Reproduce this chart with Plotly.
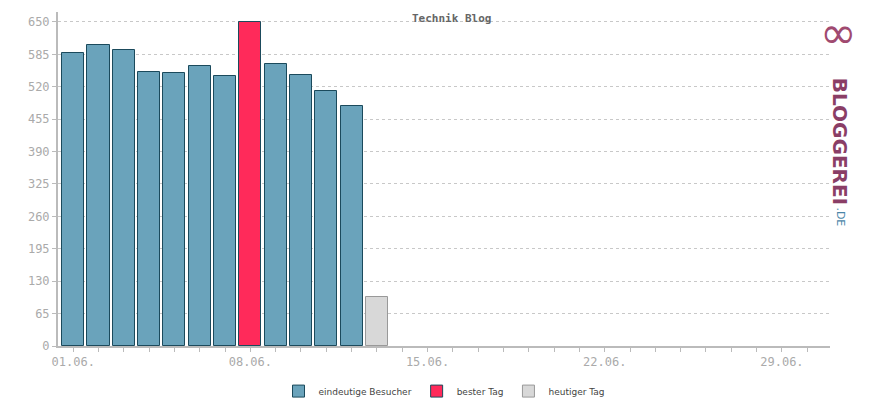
import plotly.graph_objects as go

# Tage im Juni
days_visitors = [1, 2, 3, 4, 5, 6, 7, 9, 10, 11, 12]
visitors = [588, 604, 594, 550, 548, 561, 542, 565, 544, 512, 481]
best_day = [8]
best_value = [650]
today = [13]
today_value = [98]

tick_days = [1, 8, 15, 22, 29]
tick_labels = ['01.06.', '08.06.', '15.06.', '22.06.', '29.06.']
y_ticks = list(range(0, 651, 65))

font_mono = 'DejaVu Sans Mono'
line_dark = '#1b4a5c'

fig = go.Figure()
fig.add_trace(go.Bar(x=days_visitors, y=visitors, name='eindeutige Besucher',
                     marker=dict(color='#6aa3bb', line=dict(color=line_dark, width=1)),
                     width=0.87))
fig.add_trace(go.Bar(x=best_day, y=best_value, name='bester Tag',
                     marker=dict(color='#ff2a5a', line=dict(color=line_dark, width=1)),
                     width=0.87))
fig.add_trace(go.Bar(x=today, y=today_value, name='heutiger Tag',
                     marker=dict(color='#d8d8d8', line=dict(color='#999999', width=1)),
                     width=0.87))

fig.update_layout(
    width=870, height=400,
    margin=dict(l=50, r=48, t=4, b=62, autoexpand=False),
    plot_bgcolor='white', paper_bgcolor='white',
    font=dict(family=font_mono, size=11, color='#555555'),
    title=dict(text='<b>Technik Blog</b>', x=0.51, y=0.985, xanchor='center',
               font=dict(family=font_mono, size=11, color='#666666')),
    showlegend=True,
    legend=dict(orientation='h', x=0.5, xanchor='center', y=-0.135, yanchor='middle',
                font=dict(family='DejaVu Sans', size=9, color='#444444'),
                itemwidth=30),
    bargap=0,
)
fig.update_xaxes(range=[0.4, 30.9], tickvals=tick_days, ticktext=tick_labels,
                 showgrid=False, showline=True, linecolor='#bbbbbb', linewidth=2,
                 ticks='outside', tickcolor='#bbbbbb', ticklen=4,
                 tickfont=dict(family=font_mono, size=12, color='#aaaaaa'),
                 minor=dict(tickvals=list(range(1, 31)), ticks='outside',
                            ticklen=4, tickcolor='#bbbbbb'))
fig.update_yaxes(range=[0, 670], tickvals=y_ticks,
                 showgrid=True, gridcolor='#c8c8c8', griddash='dot', gridwidth=1,
                 showline=True, linecolor='#bbbbbb', linewidth=2,
                 ticks='outside', tickcolor='#bbbbbb', ticklen=4, zeroline=False,
                 tickfont=dict(family=font_mono, size=12, color='#aaaaaa'))

# Logo rechts
fig.add_annotation(xref='paper', yref='paper', x=0.995, y=0.81, xanchor='left', yanchor='top',
                   text='<b>BLOGGEREI</b>', textangle=90, showarrow=False,
                   font=dict(family='DejaVu Sans', size=20, color='#8a3e66'))
fig.add_annotation(xref='paper', yref='paper', x=1.003, y=0.42, xanchor='left', yanchor='top',
                   text='.DE', textangle=90, showarrow=False,
                   font=dict(family='DejaVu Sans', size=11, color='#4a86a8'))
fig.add_annotation(xref='paper', yref='paper', x=0.985, y=1.02, xanchor='left', yanchor='top',
                   text='∞', showarrow=False,
                   font=dict(family='DejaVu Sans', size=44, color='#a04a70'))

fig.write_html('out.html')
